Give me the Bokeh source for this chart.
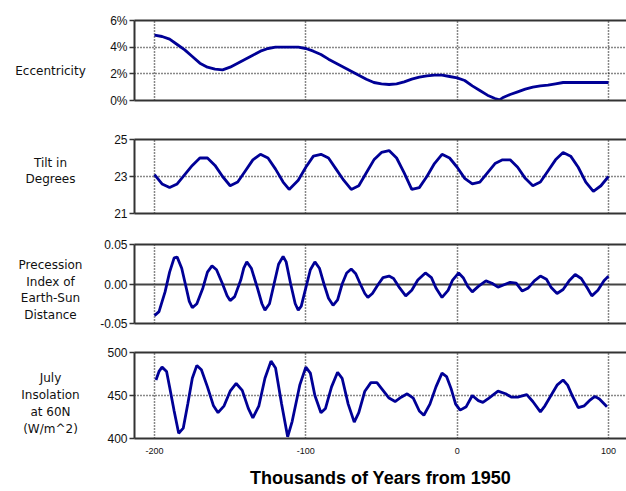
from bokeh.plotting import figure
from bokeh.layouts import column, row
from bokeh.models import FixedTicker, LinearAxis, Range1d
from bokeh.core.properties import value
from bokeh.embed import file_html
from bokeh.resources import INLINE

# ---------------- data (thousands of years from 1950) ----------------
ecc_years = [-200, -195, -190, -185, -180, -175, -170, -165, -160, -155, -150, -145, -140, -135,
             -130, -125, -120, -115, -110, -105, -100, -95, -90, -85, -80, -75, -70, -65, -60,
             -55, -50, -45, -40, -35, -30, -25, -20, -15, -10, -5, 0, 5, 10, 15, 20, 25, 28,
             30, 35, 40, 45, 50, 55, 60, 65, 70, 75, 80, 85, 90, 95, 100]
ecc_pct = [4.9, 4.8, 4.6, 4.2, 3.8, 3.3, 2.8, 2.5, 2.35, 2.3, 2.5, 2.8, 3.1, 3.4,
           3.7, 3.9, 4.0, 4.0, 4.0, 4.0, 3.9, 3.7, 3.45, 3.1, 2.8, 2.5, 2.2, 1.9, 1.6,
           1.35, 1.25, 1.2, 1.25, 1.4, 1.6, 1.75, 1.85, 1.9, 1.9, 1.8, 1.7, 1.5, 1.1, 0.75, 0.4, 0.15, 0.05,
           0.2, 0.45, 0.65, 0.85, 1.0, 1.1, 1.15, 1.25, 1.35, 1.35, 1.35, 1.35, 1.35, 1.35, 1.35]

tilt_years = [-200, -195, -190, -185, -180, -175, -170, -165, -160, -155, -150, -145, -140, -135,
              -130, -125, -120, -115, -111, -105, -100, -95, -90, -85, -80, -75, -70, -65, -60,
              -55, -50, -45, -40, -35, -30, -25, -20, -15, -10, -5, 0, 5, 10, 15, 20, 25, 30,
              35, 40, 45, 50, 55, 60, 65, 70, 75, 80, 85, 90, 95, 100]
tilt_deg = [23.1, 22.6, 22.4, 22.6, 23.1, 23.6, 24.0, 24.0, 23.6, 23.0, 22.5, 22.7, 23.3, 23.9,
            24.2, 24.0, 23.4, 22.7, 22.3, 22.8, 23.5, 24.1, 24.2, 24.0, 23.4, 22.8, 22.3, 22.5, 23.2,
            23.9, 24.3, 24.4, 24.0, 23.2, 22.3, 22.4, 23.0, 23.7, 24.2, 24.0, 23.5, 22.9, 22.6, 22.7, 23.2, 23.7, 23.9,
            23.9, 23.5, 22.9, 22.5, 22.7, 23.3, 23.9, 24.3, 24.1, 23.5, 22.7, 22.2, 22.5, 23.0]

prec_years = [-200, -197, -193, -190, -187, -185, -182, -179, -177, -175, -172, -168, -165, -162,
              -159, -155, -152, -150, -147, -143, -141, -139, -136, -132, -129, -127, -124, -121,
              -118, -115, -113, -110, -107, -105, -103, -100, -97, -94, -91, -88, -85, -82, -79,
              -76, -73, -70, -67, -64, -61, -59, -56, -52, -49, -45, -42, -38, -34, -30, -26,
              -21, -17, -14, -10, -6, -3, 1, 4, 7, 10, 14, 19, 23, 27, 31, 35, 39, 43, 47, 51,
              55, 59, 62, 66, 70, 74, 78, 82, 86, 89, 93, 97, 100]
prec_index = [-0.040, -0.035, -0.010, 0.015, 0.033, 0.034, 0.020, -0.005, -0.022, -0.030, -0.025, -0.005, 0.015, 0.023,
              0.018, 0.000, -0.015, -0.021, -0.016, 0.005, 0.020, 0.028, 0.020, -0.005, -0.025, -0.033, -0.025, 0.000,
              0.025, 0.035, 0.028, 0.000, -0.025, -0.033, -0.028, -0.005, 0.018, 0.028, 0.020, 0.000, -0.018, -0.027, -0.020,
              0.000, 0.014, 0.019, 0.013, 0.000, -0.012, -0.017, -0.012, 0.000, 0.008, 0.010, 0.007, -0.005, -0.015, -0.008, 0.005,
              0.014, 0.008, -0.005, -0.017, -0.008, 0.005, 0.014, 0.008, -0.003, -0.010, -0.003, 0.004, 0.001, -0.004, -0.001, 0.002, 0.001, -0.009, -0.005, 0.004,
              0.010, 0.006, -0.004, -0.012, -0.007, 0.004, 0.012, 0.007, -0.005, -0.015, -0.008, 0.004, 0.010]

insol_years = [-199, -197, -195, -192, -190, -187, -184, -181, -178, -175, -172, -169, -165, -161,
               -158, -154, -150, -146, -142, -138, -135, -131, -127, -123, -120, -116, -112, -109,
               -104, -100, -97, -94, -90, -87, -83, -79, -76, -72, -68, -65, -61, -57, -53, -49,
               -45, -41, -37, -33, -29, -25, -22, -18, -14, -10, -7, -4, -1, 2, 6, 10, 14, 17, 21,
               27, 32, 36, 40, 46, 50, 55, 58, 62, 66, 70, 73, 76, 80, 84, 88, 91, 94, 99]
insol_wm2 = [468, 478, 483, 478, 460, 432, 406, 412, 440, 470, 485, 480, 460, 438,
             430, 438, 455, 464, 456, 435, 424, 438, 470, 490, 482, 440, 402, 420,
             462, 483, 476, 450, 430, 435, 460, 477, 470, 440, 419, 430, 455, 465, 465, 456,
             447, 443, 448, 452, 447, 432, 427, 440, 460, 476, 472, 458, 440, 433, 437, 450, 444, 442, 447,
             455, 452, 448, 448, 451, 443, 431, 438, 450, 462, 468, 462, 450, 436, 438, 445, 449, 446, 437]

x_ticks = [-200, -100, 0, 100]
x_tick_labels = ["-200", "-100", "0", "100"]

ecc_ticks = [0, 2, 4, 6]
ecc_tick_labels = ["0%", "2%", "4%", "6%"]
tilt_ticks = [21, 23, 25]
tilt_tick_labels = ["21", "23", "25"]
prec_ticks = [-0.05, 0.0, 0.05]
prec_tick_labels = ["-0.05", "0.00", "0.05"]
insol_ticks = [400, 450, 500]
insol_tick_labels = ["400", "450", "500"]

panel_titles = ["Eccentricity", "Tilt in\nDegrees",
                "Precession\nIndex of\nEarth-Sun\nDistance", "July\nInsolation\nat 60N\n(W/m^2)"]

# ---------------- styling ----------------
X_START, X_END = -213.2, 111.9
BLUE = "#000096"
FRAME = "#333333"
FONT = "Liberation Sans"
LABEL_FONT = "DejaVu Sans"
LABEL_W = 95
LEFT = 134 - LABEL_W
W = 626 - LABEL_W


def make_label(height, top, bottom, yr, label_text, label_y):
    q = figure(width=LABEL_W, height=height, x_range=Range1d(0, LABEL_W), y_range=Range1d(*yr),
               output_backend="svg", toolbar_location=None,
               min_border_left=0, min_border_right=0, min_border_top=top, min_border_bottom=bottom,
               outline_line_color=None, x_axis_type=None, y_axis_type=None)
    q.xgrid.visible = False
    q.ygrid.visible = False
    q.text(x=[50], y=[label_y], text=[label_text], text_align="center", text_baseline="middle",
           text_font=value(LABEL_FONT), text_font_size=value("12px"), text_color="#111111",
           text_line_height=1.2)
    return q


def make_panel(height, top, bottom, yr, yticks, ylabels, grid_ticks, xs, ys,
               last=False, solid_zero=False):
    p = figure(width=W, height=height, x_range=Range1d(X_START, X_END), y_range=Range1d(*yr),
               output_backend="svg", toolbar_location=None,
               min_border_left=LEFT, min_border_right=0,
               min_border_top=top, min_border_bottom=bottom,
               outline_line_color=None, background_fill_color="white", border_fill_color="white")

    ya = p.yaxis[0]
    ya.ticker = FixedTicker(ticks=yticks)
    ya.major_label_overrides = {t: l for t, l in zip(yticks, ylabels)}
    ya.minor_tick_line_color = None
    ya.major_tick_out = 5
    ya.major_tick_in = 0
    ya.major_tick_line_color = FRAME
    ya.major_tick_line_width = 1.5
    ya.axis_line_color = FRAME
    ya.axis_line_width = 2
    ya.major_label_standoff = 2
    ya.major_label_text_font = FONT
    ya.major_label_text_font_size = "12px"
    ya.major_label_text_color = "#111111"

    xa = p.xaxis[0]
    xa.minor_tick_line_color = None
    xa.major_tick_out = 0
    xa.major_tick_in = 0
    xa.axis_line_color = FRAME
    xa.axis_line_width = 2
    if last:
        xa.ticker = FixedTicker(ticks=x_ticks)
        xa.major_label_overrides = {t: l for t, l in zip(x_ticks, x_tick_labels)}
        xa.major_label_text_font = FONT
        xa.major_label_text_font_size = "9px"
        xa.major_label_text_color = "#111111"
        xa.major_label_standoff = 9
        xa.axis_label = "Thousands of Years from 1950"
        xa.axis_label_text_font = FONT
        xa.axis_label_text_font_style = "bold"
        xa.axis_label_text_font_size = "18px"
        xa.axis_label_text_color = "#000000"
        xa.axis_label_standoff = 11
    else:
        xa.ticker = FixedTicker(ticks=[])
        xa.major_label_standoff = 0

    top_axis = LinearAxis(ticker=FixedTicker(ticks=[]), axis_line_color=FRAME, axis_line_width=2,
                          major_tick_line_color=None, minor_tick_line_color=None,
                          major_label_standoff=0)
    p.add_layout(top_axis, "above")

    p.xgrid.ticker = FixedTicker(ticks=x_ticks)
    p.xgrid.grid_line_color = "#111111"
    p.xgrid.grid_line_dash = "1 2"
    p.xgrid.grid_line_width = 1.5
    p.ygrid.ticker = FixedTicker(ticks=grid_ticks)
    if solid_zero:
        p.ygrid.grid_line_color = "#444444"
        p.ygrid.grid_line_width = 2
        p.ygrid.grid_line_dash = "solid"
    else:
        p.ygrid.grid_line_color = "#111111"
        p.ygrid.grid_line_dash = "1 2"
        p.ygrid.grid_line_width = 1.5

    p.line(xs, ys, line_color=BLUE, line_width=2.8)
    return p


specs = [
    dict(height=120, top=20, bottom=20, yr=(0, 6), yticks=ecc_ticks, ylabels=ecc_tick_labels,
         grid=[2, 4], label_y=2.25, xs=ecc_years, ys=ecc_pct, last=False, solid=False),
    dict(height=110, top=19, bottom=17, yr=(21, 25), yticks=tilt_ticks, ylabels=tilt_tick_labels,
         grid=[23], label_y=23.3, xs=tilt_years, ys=tilt_deg, last=False, solid=False),
    dict(height=105, top=14, bottom=12, yr=(-0.05, 0.05), yticks=prec_ticks, ylabels=prec_tick_labels,
         grid=[0.0], label_y=-0.0076, xs=prec_years, ys=prec_index, last=False, solid=True),
    dict(height=156, top=17, bottom=53, yr=(400, 500), yticks=insol_ticks, ylabels=insol_tick_labels,
         grid=[450], label_y=440.7, xs=insol_years, ys=insol_wm2, last=True, solid=False),
]

rows = []
for s, title in zip(specs, panel_titles):
    lab = make_label(s["height"], s["top"], s["bottom"], s["yr"], title, s["label_y"])
    pan = make_panel(s["height"], s["top"], s["bottom"], s["yr"], s["yticks"], s["ylabels"],
                     s["grid"], s["xs"], s["ys"], last=s["last"], solid_zero=s["solid"])
    rows.append(row(lab, pan, spacing=0))

layout = column(*rows, spacing=0)

with open("out.html", "w") as f:
    f.write(file_html(layout, INLINE))
